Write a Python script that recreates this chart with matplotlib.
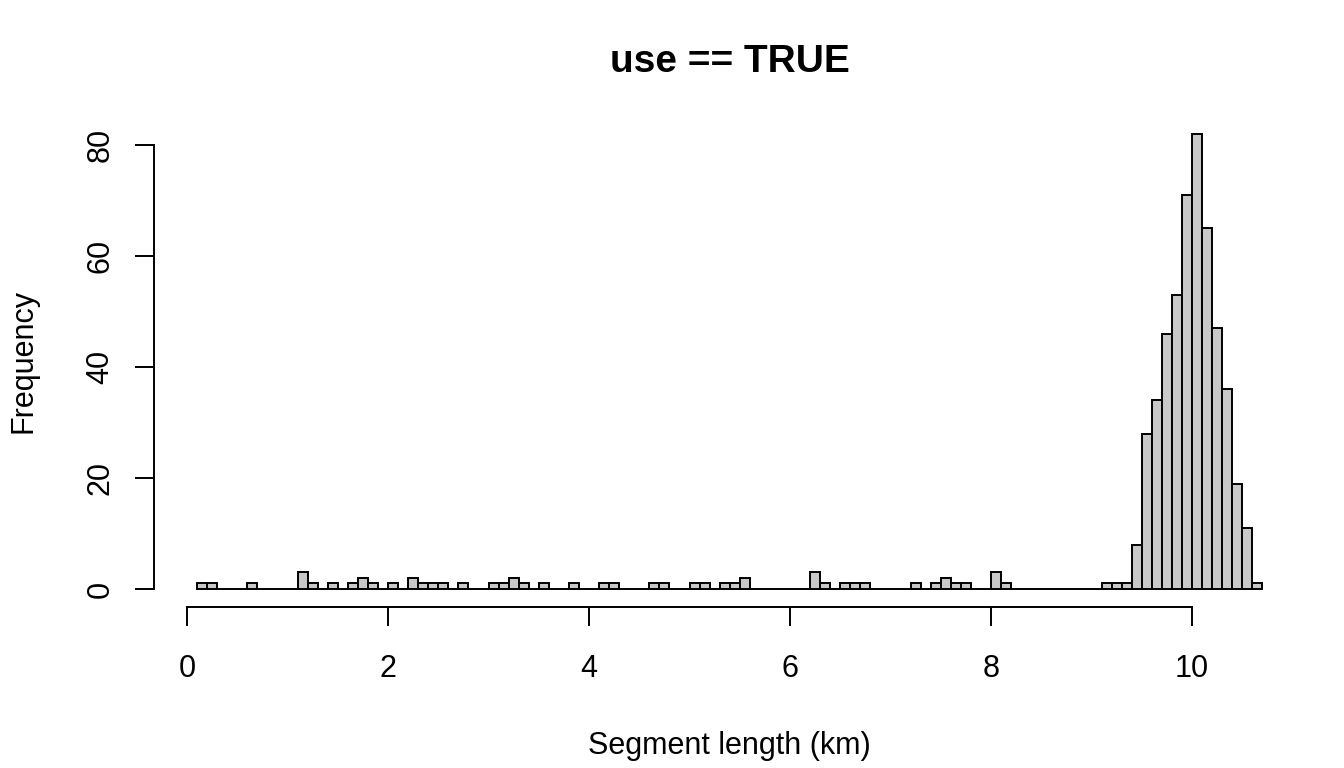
import matplotlib.pyplot as plt
import numpy as np

plt.rcParams['font.family'] = ['Liberation Sans', 'DejaVu Sans']

# histogram bins of 0.1 km from 0.1 to 10.7
bin_start = 0.1
bin_width = 0.1
counts = [
    1, 1, 0, 0, 0, 1, 0, 0, 0, 0,          # 0.1 - 1.1
    3, 1, 0, 1, 0, 1, 2, 1, 0, 1,          # 1.1 - 2.1
    0, 2, 1, 1, 1, 0, 1, 0, 0, 1,          # 2.1 - 3.1
    1, 2, 1, 0, 1, 0, 0, 1, 0, 0,          # 3.1 - 4.1
    1, 1, 0, 0, 0, 1, 1, 0, 0, 1,          # 4.1 - 5.1
    1, 0, 1, 1, 2, 0, 0, 0, 0, 0,          # 5.1 - 6.1
    0, 3, 1, 0, 1, 1, 1, 0, 0, 0,          # 6.1 - 7.1
    0, 1, 0, 1, 2, 1, 1, 0, 0, 3,          # 7.1 - 8.1
    1, 0, 0, 0, 0, 0, 0, 0, 0, 0,          # 8.1 - 9.1
    1, 1, 1, 8, 28, 34, 46, 53, 71, 82,    # 9.1 - 10.1
    65, 47, 36, 19, 11, 1,                 # 10.1 - 10.7
]
x_ticks = [0, 2, 4, 6, 8, 10]
y_ticks = [0, 20, 40, 60, 80]

counts = np.array(counts)
edges = bin_start + bin_width * np.arange(len(counts) + 1)
centers = (edges[:-1] + edges[1:]) / 2

fig = plt.figure(figsize=(13.44, 7.68), dpi=100)
ax = fig.add_axes([0.1149, 0.2094, 0.971 - 0.1149, 0.8493 - 0.2094])

ax.hist(centers, bins=edges, weights=counts, color='#C8C8C8',
        edgecolor='black', linewidth=1.4)

# R style 4% padding around the data range
xr = edges[-1] - edges[0]
ax.set_xlim(edges[0] - 0.04 * xr, edges[-1] + 0.04 * xr)
ax.set_ylim(-0.04 * counts.max(), counts.max() * 1.04)

for s in ['top', 'right']:
    ax.spines[s].set_visible(False)
ax.spines['bottom'].set_bounds(x_ticks[0], x_ticks[-1])
ax.spines['left'].set_bounds(y_ticks[0], y_ticks[-1])
ax.spines['bottom'].set_linewidth(1.4)
ax.spines['left'].set_linewidth(1.4)

ax.set_xticks(x_ticks)
ax.set_yticks(y_ticks)
ax.set_yticklabels([str(v) for v in y_ticks], rotation=90, va='center')
ax.tick_params(axis='both', length=14, width=1.4, labelsize=22)
ax.tick_params(axis='x', pad=20)
ax.tick_params(axis='y', pad=14)

ax.set_xlabel('Segment length (km)', fontsize=22, va='baseline')
ax.xaxis.set_label_coords(0.5, -0.2987)
ax.set_ylabel('Frequency', fontsize=22, va='baseline')
ax.yaxis.set_label_coords(-0.107, 0.5)
ax.set_title('use == TRUE', fontsize=28, fontweight='bold', pad=31.5)

fig.savefig('out.png', dpi=100)
